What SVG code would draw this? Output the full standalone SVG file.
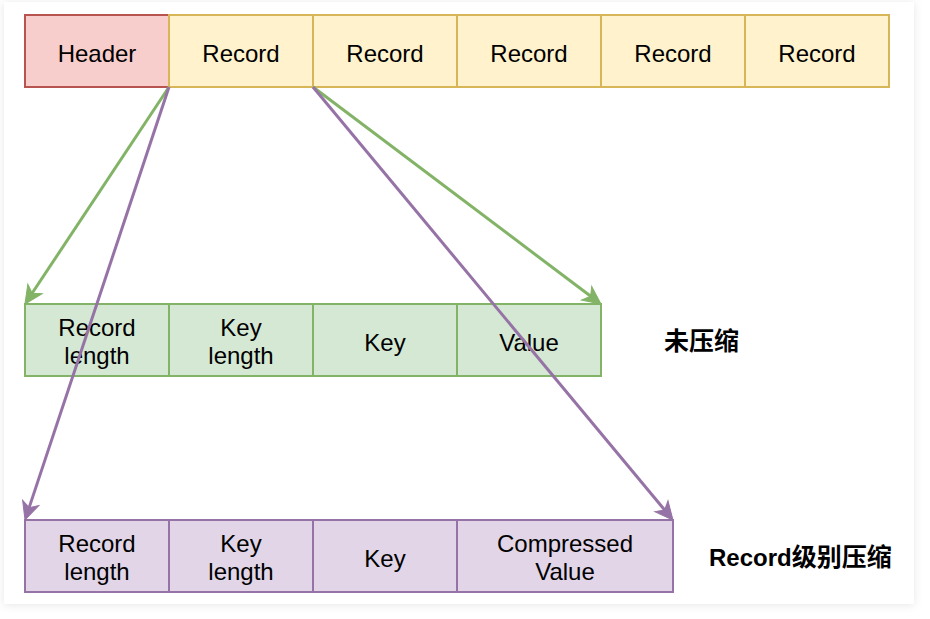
<svg xmlns="http://www.w3.org/2000/svg" width="930" height="619" viewBox="0 0 930 619">
<style>
text{font-family:"Liberation Sans",Arial,"Noto Sans CJK SC",sans-serif;font-size:24px;fill:#000;text-anchor:middle}
.lbl{font-weight:bold;text-anchor:start;font-family:"Liberation Sans",Arial,"Noto Sans CJK SC",sans-serif}
.cjk{font-size:25px}
.red{fill:#f8cecc;stroke:#b85450;stroke-width:2}
.yel{fill:#fff2cc;stroke:#d6b656;stroke-width:2}
.grn{fill:#d5e8d4;stroke:#82b366;stroke-width:2}
.pur{fill:#e1d5e7;stroke:#9673a6;stroke-width:2}
.eg{stroke:#82b366;stroke-width:3;fill:none}
.ep{stroke:#9673a6;stroke-width:3;fill:none}
</style>
<defs>
<filter id="sh" x="-5%" y="-5%" width="110%" height="110%">
<feDropShadow dx="0" dy="1" stdDeviation="4" flood-color="#000" flood-opacity="0.10"/>
</filter>
<marker id="ag" viewBox="-8 -10 22 20" markerWidth="22" markerHeight="20" refX="0" refY="0" orient="auto" markerUnits="userSpaceOnUse">
<path d="M-6,-8.5 L12,0 L-6,8.5 L-1,0 Z" fill="#82b366" stroke="#82b366" stroke-width="1"/>
</marker>
<marker id="ap" viewBox="-8 -10 22 20" markerWidth="22" markerHeight="20" refX="0" refY="0" orient="auto" markerUnits="userSpaceOnUse">
<path d="M-6,-8.5 L12,0 L-6,8.5 L-1,0 Z" fill="#9673a6" stroke="#9673a6" stroke-width="1"/>
</marker>
</defs>
<rect x="0" y="0" width="930" height="619" fill="#ffffff"/>
<rect x="4" y="2" width="910" height="602" fill="#ffffff" filter="url(#sh)"/>

<g id="top-row">
<g id="header"><rect class="red" x="25" y="15" width="144" height="72"/><text x="97" y="62">Header</text></g>
<g id="record1"><rect class="yel" x="169" y="15" width="144" height="72"/><text x="241" y="62">Record</text></g>
<g id="record2"><rect class="yel" x="313" y="15" width="144" height="72"/><text x="385" y="62">Record</text></g>
<g id="record3"><rect class="yel" x="457" y="15" width="144" height="72"/><text x="529" y="62">Record</text></g>
<g id="record4"><rect class="yel" x="601" y="15" width="144" height="72"/><text x="673" y="62">Record</text></g>
<g id="record5"><rect class="yel" x="745" y="15" width="144" height="72"/><text x="817" y="62">Record</text></g>
</g>

<g id="uncompressed-row">
<g id="u-record-length"><rect class="grn" x="25" y="304" width="144" height="72"/><text x="97" y="335.5">Record</text><text x="97" y="364">length</text></g>
<g id="u-key-length"><rect class="grn" x="169" y="304" width="144" height="72"/><text x="241" y="335.5">Key</text><text x="241" y="364">length</text></g>
<g id="u-key"><rect class="grn" x="313" y="304" width="144" height="72"/><text x="385" y="351">Key</text></g>
<g id="u-value"><rect class="grn" x="457" y="304" width="144" height="72"/><text x="529" y="351">Value</text></g>
</g>

<g id="compressed-row">
<g id="c-record-length"><rect class="pur" x="25" y="520" width="144" height="72"/><text x="97" y="551.5">Record</text><text x="97" y="580">length</text></g>
<g id="c-key-length"><rect class="pur" x="169" y="520" width="144" height="72"/><text x="241" y="551.5">Key</text><text x="241" y="580">length</text></g>
<g id="c-key"><rect class="pur" x="313" y="520" width="144" height="72"/><text x="385" y="567">Key</text></g>
<g id="c-value"><rect class="pur" x="457" y="520" width="216" height="72"/><text x="565" y="551.5">Compressed</text><text x="565" y="580">Value</text></g>
</g>

<g id="label-uncompressed"><text class="lbl cjk" x="664" y="350">未压缩</text></g>
<g id="label-compressed"><text class="lbl" x="709" y="566">Record<tspan class="cjk">级别压缩</tspan></text></g>

<g id="connectors">
<line class="eg" x1="169" y1="87" x2="31.6" y2="294" marker-end="url(#ag)"/>
<line class="eg" x1="313" y1="87" x2="591.4" y2="296.8" marker-end="url(#ag)"/>
<line class="ep" x1="169" y1="87" x2="28.8" y2="508.6" marker-end="url(#ap)"/>
<line class="ep" x1="313" y1="87" x2="665.3" y2="510.8" marker-end="url(#ap)"/>
</g>
</svg>
